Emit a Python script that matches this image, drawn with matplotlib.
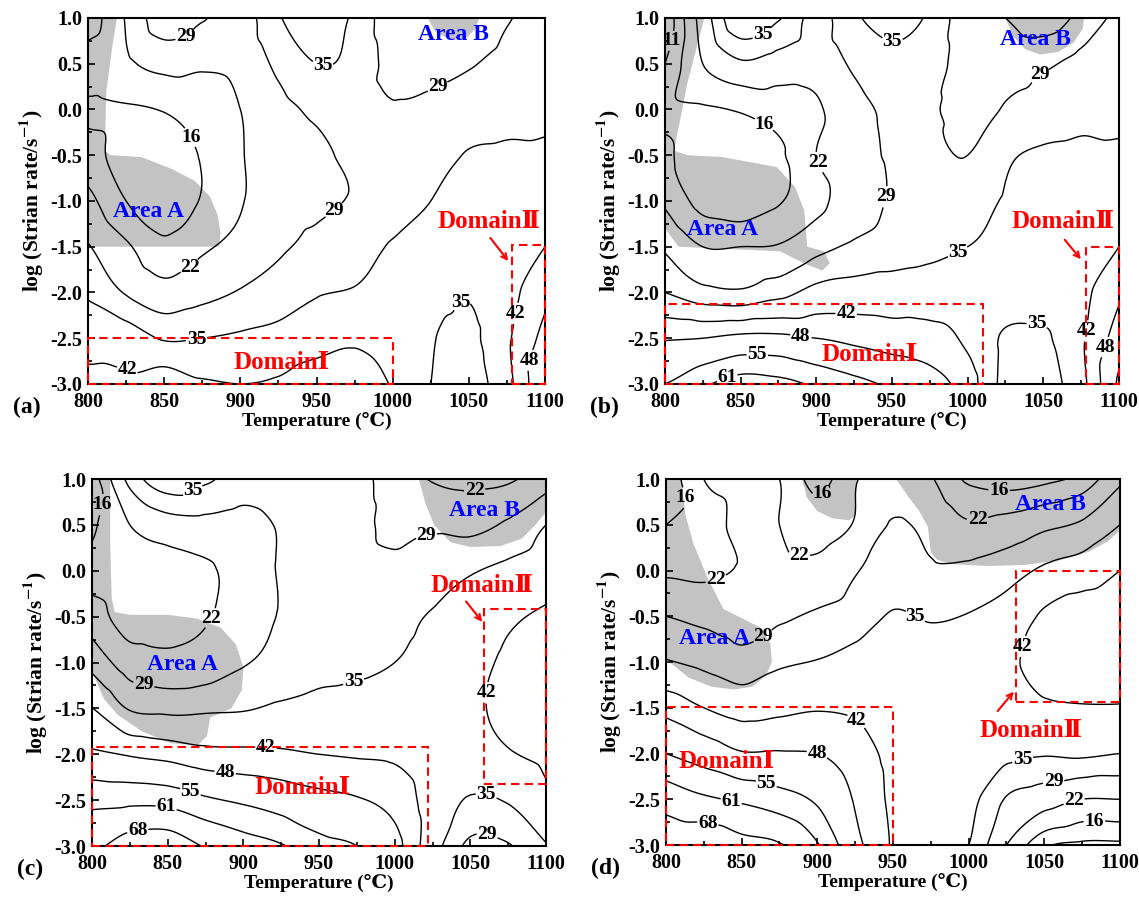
import numpy as np
import matplotlib
matplotlib.use('Agg')
import matplotlib.pyplot as plt
import matplotlib.tri as mtri
from matplotlib.patches import Rectangle, Polygon

# grid of the processing maps
temps = [800, 825, 850, 875, 900, 925, 950, 975, 1000, 1025, 1050, 1075, 1100]
rates = [1.0, 0.5, 0.0, -0.5, -1.0, -1.5, -2.0, -2.5, -3.0]   # log strain rate, top row first
levels = [11, 16, 22, 29, 35, 42, 48, 55, 61, 68]

# power dissipation efficiency (%), rows follow `rates`, columns follow `temps`
eff_a = [
    [13, 22.5, 33, 29.5, 26, 34.5, 38, 34, 25, 25, 24, 28.5, 31],
    [19, 21, 24, 23, 24, 30.5, 35, 33.5, 27, 27.5, 28.5, 31, 32.5],
    [15, 15.5, 16.3, 18.5, 22, 27, 30, 31, 29.5, 30, 31.5, 33, 34],
    [18.5, 13.5, 12.5, 16.5, 21.5, 26, 28, 30, 31, 32, 35.5, 36, 35.8],
    [24, 16, 12, 16.5, 21.5, 26.5, 28, 29.5, 32, 35, 38, 38, 38],
    [29.5, 23, 17.5, 21, 24, 28, 30.5, 32.5, 35.5, 37, 38, 39.5, 42],
    [34, 28.5, 24.5, 27, 29.5, 32, 34.5, 35.5, 37.5, 37, 35.5, 40, 46.5],
    [39.5, 38.5, 34.5, 35, 36, 37, 39, 41, 40, 35.5, 33.5, 41, 50],
    [44, 44, 47, 43, 42, 43, 46, 46, 41.5, 35, 32, 40, 54],
]
eff_b = [
    [7, 25, 40, 35.5, 27, 34, 37.5, 34, 25, 22, 18, 24, 31],
    [11, 22, 28, 26, 25, 30, 33, 32, 26, 27, 28, 31, 33],
    [15, 15.5, 16.5, 18.5, 21, 27, 30, 30, 26, 29.5, 31, 33, 34],
    [17, 13, 12, 15, 22, 27, 29.5, 30, 29, 34, 36, 36.5, 35.8],
    [21, 14, 12, 15.5, 20, 26, 29.5, 31, 32.5, 35.5, 38, 38.5, 39],
    [28, 22, 22, 22.5, 27, 30, 31.5, 33, 35, 36.5, 38, 39.5, 42],
    [35, 31, 30, 33, 37, 38, 38.5, 39, 39.5, 39, 38, 40.5, 47],
    [47.5, 48, 49.5, 49.5, 48, 46.5, 45, 44, 41, 34, 34, 41, 51],
    [55, 60, 64, 63, 60, 57, 54, 51, 45, 33, 32, 40, 56],
]
eff_c = [
    [13, 31, 39, 36, 32, 32, 32, 31, 26, 21.5, 20, 21, 26],
    [15, 22, 26, 27, 27, 29.5, 31, 31, 27, 28, 27, 30, 35],
    [18, 17.5, 19, 21, 25, 29.5, 31, 31.5, 31, 32, 34.5, 36.5, 38.5],
    [26, 18, 19, 21.5, 25, 29.5, 32, 33, 33.5, 35.5, 38, 41, 43],
    [33, 26, 24, 25, 28.5, 31, 33, 33.5, 35, 37, 40, 43, 45],
    [42.2, 34.5, 33.5, 34, 34.5, 36, 37, 38, 38.5, 39.5, 41, 43.5, 46],
    [49, 47.5, 46, 44, 43.5, 43, 42, 41.5, 41, 39, 39, 41.5, 43.5],
    [59.5, 59.5, 59, 56, 54, 52, 50, 48.5, 46, 39, 34.5, 35.5, 40.5],
    [66, 72, 73, 67.5, 64, 61.5, 57, 55, 50, 38, 27.5, 28.5, 34.5],
]
eff_d = [
    [12, 22, 24, 22, 14, 21.5, 26, 22.5, 15, 13, 14.5, 18, 27.5],
    [16, 19, 23.5, 22, 19, 22.5, 29.5, 27, 22.8, 24.5, 27.5, 30, 35],
    [21, 20.5, 22.5, 23.5, 24, 28.5, 32, 30, 30.5, 32.5, 36, 38, 42],
    [29, 27.5, 26.5, 28, 30, 32, 35.5, 34.5, 35.3, 37.5, 43, 46, 47],
    [35.5, 33.5, 31, 34, 35.3, 37, 38, 37.5, 38, 40.5, 45, 47, 47],
    [46, 42, 39.5, 40.5, 41.5, 41, 40, 39, 39, 40, 41, 41.5, 41.5],
    [55, 52, 48.5, 48.5, 48, 45, 40.5, 39.5, 38.5, 36.5, 35.5, 36, 35],
    [65, 62, 60, 57.5, 54, 47.5, 41, 40, 37, 28.5, 25, 22, 22],
    [74, 74, 70.5, 68.5, 61.5, 50, 41.5, 38, 35, 22, 12, 10, 10],
]

# instability (grey) regions, (temperature, log strain rate)
unstable_a = [
    [(800, 1), (819, 1), (816, 0.7), (812, 0.2), (811, -0.45), (815, -0.5), (835, -0.52), (855, -0.65),
     (870, -0.78), (880, -0.95), (885, -1.15), (887, -1.35), (886, -1.5), (800, -1.5)],
    [(1023, 1), (1028, 0.85), (1038, 0.76), (1048, 0.77), (1054, 0.88), (1057, 1)],
]
unstable_b = [
    [(800, 1), (826, 1), (815, 0.3), (806, -0.45), (815, -0.5), (838, -0.52), (874, -0.63), (886, -0.85),
     (892, -1.1), (894, -1.5), (905, -1.55), (909, -1.68), (904, -1.76), (893, -1.69), (876, -1.55),
     (809, -1.5), (800, -1.3)],
    [(1025, 1), (1030, 0.8), (1038, 0.66), (1048, 0.6), (1060, 0.63), (1070, 0.73), (1076, 0.88), (1077, 1)],
]
unstable_c = [
    [(800, 1), (812, 1), (812, 0.3), (813, -0.3), (815, -0.45), (825, -0.48), (850, -0.48), (869, -0.52),
     (885, -0.62), (895, -0.8), (900, -1.05), (899, -1.3), (892, -1.5), (878, -1.6), (876, -1.8),
     (870, -1.9), (852, -1.88), (833, -1.75), (817, -1.57), (808, -1.4), (800, -1.1)],
    [(1016, 1), (1020, 0.75), (1026, 0.5), (1037, 0.31), (1050, 0.26), (1070, 0.27), (1084, 0.35),
     (1093, 0.5), (1100, 0.64), (1100, 1)],
]
unstable_d = [
    [(800, 1), (810, 1), (813, 0.6), (818, 0.3), (828, -0.1), (838, -0.42), (850, -0.52), (862, -0.62),
     (869, -0.8), (870, -1.0), (866, -1.15), (857, -1.27), (845, -1.3), (830, -1.27), (815, -1.17),
     (800, -0.97)],
    [(890, 1), (893, 0.8), (900, 0.65), (910, 0.57), (921, 0.55), (925, 0.6), (926, 1)],
    [(952, 1), (960, 0.81), (967, 0.66), (973, 0.48), (975, 0.2), (979, 0.12), (988, 0.07), (1012, 0.05),
     (1036, 0.06), (1060, 0.11), (1080, 0.21), (1092, 0.32), (1100, 0.44), (1100, 1)],
]

# stable domains: (T min, T max, log rate min, log rate max)
domains_a = [(800, 1000, -3.0, -2.5), (1078, 1100, -3.0, -1.48)]
domains_b = [(800, 1010, -3.0, -2.13), (1078, 1100, -3.0, -1.5)]
domains_c = [(800, 1022, -3.0, -1.92), (1059, 1100, -2.32, -0.42)]
domains_d = [(800, 950, -3.0, -1.49), (1031, 1100, -1.44, 0.0)]

# where the contour values are written
labels_a = [(867, 0.73), (954, 0.48), (1028, 0.3), (871, -0.27), (961, -1.09), (871, -1.79),
            (871, -2.49), (828, -2.73), (1032, -1.8), (1084, -2.24), (1092, -2.75)]
labels_b = [(807, 0.74), (868, 0.74), (950, 0.7), (1043, 0.48), (867, -0.12), (908, -0.54),
            (941, -0.94), (992, -1.51), (920, -2.17), (890, -2.46), (861, -2.7), (840, -2.88),
            (1046, -2.44), (1083, -2.43), (1093, -2.61)]
labels_c = [(810, 0.71), (867, 0.86), (1053, 0.86), (1021, 0.37), (880, -0.53), (834, -1.26),
            (974, -1.28), (1061, -1.33), (915, -1.92), (888, -2.19), (865, -2.41), (849, -2.58),
            (830, -2.81), (1061, -2.41), (1061, -2.89)]
labels_d = [(811, 0.79), (902, 0.86), (1020, 0.81), (1006, 0.54), (888, 0.17), (832, -0.05),
            (973, -0.27), (868, -0.82), (1036, -0.83), (926, -1.64), (900, -2.0), (866, -2.35),
            (843, -2.53), (828, -2.73), (1035, -2.02), (1056, -2.28), (1069, -2.48), (1083, -2.68)]

panels = [
    dict(tag='(a)', eff=eff_a, unstable=unstable_a, domains=domains_a, labels=labels_a,
         rect=[0.0773, 0.5776, 0.4012, 0.4026], area_a=(840, -1.11), area_b=(1040, 0.82),
         dom1=(927, -2.77), dom2=(1063, -1.22), arrow=((1063, -1.38), (1077, -1.68))),
    dict(tag='(b)', eff=eff_b, unstable=unstable_b, domains=domains_b, labels=labels_b,
         rect=[0.5838, 0.5776, 0.3986, 0.4026], area_a=(838, -1.31), area_b=(1045, 0.77),
         dom1=(935, -2.68), dom2=(1063, -1.22), arrow=((1063, -1.4), (1076, -1.66))),
    dict(tag='(c)', eff=eff_c, unstable=unstable_c, domains=domains_c, labels=labels_c,
         rect=[0.0808, 0.0693, 0.3986, 0.4037], area_a=(860, -1.02), area_b=(1059, 0.66),
         dom1=(939, -2.36), dom2=(1058, -0.16), arrow=((1046, -0.31), (1059, -0.58))),
    dict(tag='(d)', eff=eff_d, unstable=unstable_d, domains=domains_d, labels=labels_d,
         rect=[0.5847, 0.0704, 0.3986, 0.4026], area_a=(832, -0.74), area_b=(1054, 0.72),
         dom1=(840, -2.09), dom2=(1041, -1.75), arrow=((1018, -1.56), (1031, -1.3))),
]

plt.rcParams['font.family'] = ['Liberation Serif', 'DejaVu Serif', 'Noto Sans CJK SC']
plt.rcParams['font.weight'] = 'bold'
plt.rcParams['mathtext.fontset'] = 'stix'
plt.rcParams['mathtext.default'] = 'bf'
plt.rcParams['axes.linewidth'] = 1.5


def smooth(values):
    # cubic interpolation of the coarse grid, done in grid-index space
    z = np.array(values, dtype=float)[::-1]
    nx, ny = len(temps), len(rates)
    gx, gy = np.meshgrid(np.arange(nx, dtype=float), np.arange(ny, dtype=float))
    tri = mtri.Triangulation(gx.ravel(), gy.ravel())
    interp = mtri.CubicTriInterpolator(tri, z.ravel(), kind='geom')
    fx = np.linspace(0, nx - 1 - 1e-9, 361)
    fy = np.linspace(1e-9, ny - 1 - 1e-9, 241)
    FX, FY = np.meshgrid(fx, fy)
    FZ = np.ma.filled(interp(FX, FY), np.nan)
    T = temps[0] + FX * (temps[1] - temps[0])
    R = min(rates) + FY * 0.5
    return T, R, FZ


fig = plt.figure(figsize=(11.39, 9.09), dpi=100)

for p in panels:
    ax = fig.add_axes(p['rect'])
    for poly in p['unstable']:
        ax.add_patch(Polygon(poly, closed=True, facecolor='#c3c3c3', edgecolor='none', zorder=1))
    T, R, Z = smooth(p['eff'])
    cs = ax.contour(T, R, Z, levels=levels, colors='black', linewidths=1.0, zorder=3)
    texts = ax.clabel(cs, inline=True, fmt='%d', fontsize=14, manual=p['labels'],
                      inline_spacing=1, rightside_up=True)
    for t in texts:
        t.set_fontweight('bold')
        t.set_rotation(0)
    for (t0, t1, r0, r1) in p['domains']:
        ax.add_patch(Rectangle((t0, r0), t1 - t0, r1 - r0, fill=False, edgecolor='red',
                               linestyle=(0, (4, 2.5)), linewidth=1.5, zorder=4, clip_on=False))
    ax.text(*p['area_a'], 'Area A', color='blue', fontsize=17, fontweight='bold',
            ha='center', va='center', zorder=5)
    ax.text(*p['area_b'], 'Area B', color='blue', fontsize=17, fontweight='bold',
            ha='center', va='center', zorder=5)
    ax.text(*p['dom1'], 'Domain\u2160', color='red', fontsize=18, fontweight='bold',
            ha='center', va='center', zorder=5)
    ax.text(*p['dom2'], 'Domain\u2161', color='red', fontsize=18, fontweight='bold',
            ha='center', va='center', zorder=5)
    ax.annotate('', xy=p['arrow'][1], xytext=p['arrow'][0],
                arrowprops=dict(arrowstyle='->', color='red', lw=1.5), zorder=5)

    ax.set_xlim(800, 1100)
    ax.set_ylim(-3, 1)
    ax.set_xticks([800, 850, 900, 950, 1000, 1050, 1100])
    ax.set_xticks(np.arange(800, 1101, 25), minor=True)
    ax.set_yticks(np.arange(-3, 1.01, 0.5))
    ax.set_yticks(np.arange(-3, 1.01, 0.25), minor=True)
    ax.yaxis.set_major_formatter(matplotlib.ticker.FormatStrFormatter('%.1f'))
    ax.tick_params(which='both', direction='in', top=False, right=False, labelsize=14.5, width=1.2)
    ax.tick_params(which='major', length=5)
    ax.tick_params(which='minor', length=3)
    ax.tick_params(axis='x', pad=6)
    ax.tick_params(axis='y', pad=4)
    for lab in ax.get_xticklabels() + ax.get_yticklabels():
        lab.set_fontweight('bold')
    ax.set_xlabel('Temperature (\u2103)', fontsize=14, fontweight='bold', labelpad=0)
    ax.set_ylabel('log (Strian rate/s$^{-1}$)', fontsize=15.5, fontweight='bold', labelpad=4)

    x0 = p['rect'][0] - 0.066
    y0 = p['rect'][1] - 0.026
    fig.text(x0, y0, p['tag'], fontsize=17, fontweight='bold', ha='left', va='center')

fig.savefig('out.png', dpi=100)
